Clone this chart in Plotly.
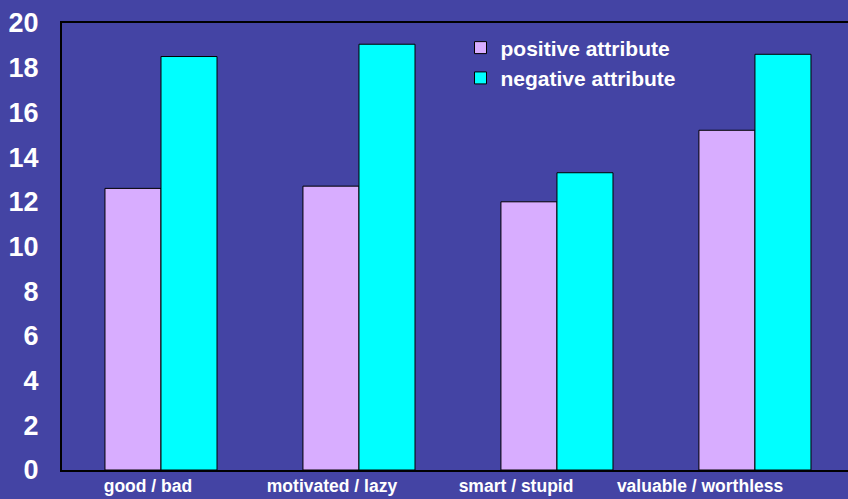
import plotly.graph_objects as go

categories = ["good / bad", "motivated / lazy", "smart / stupid", "valuable / worthless"]
positive = [12.6, 12.7, 12.0, 15.2]
negative = [18.5, 19.05, 13.3, 18.6]
y_ticks = [0, 2, 4, 6, 8, 10, 12, 14, 16, 18, 20]

bg = "#4444A4"
fig = go.Figure()
fig.add_trace(go.Bar(x=categories, y=positive, name="positive attribute",
                     marker=dict(color="#D8ADFF", line=dict(color="black", width=1))))
fig.add_trace(go.Bar(x=categories, y=negative, name="negative attribute",
                     marker=dict(color="#00FFFF", line=dict(color="black", width=1))))
# invisible carrier trace for the label axis
fig.add_trace(go.Scatter(x=list(range(len(categories))), y=[0] * len(categories), xaxis="x2",
                         mode="markers", marker=dict(opacity=0), showlegend=False, hoverinfo="skip"))

fig.update_layout(
    width=848, height=499,
    margin=dict(l=62, r=0, t=23, b=29, autoexpand=False),
    paper_bgcolor=bg, plot_bgcolor=bg,
    barmode="group", bargap=0.434, bargroupgap=0,
    font=dict(family="Liberation Sans, Arial, sans-serif", color="white"),
    showlegend=True,
    legend=dict(x=0.507, y=0.99, xanchor="left", yanchor="top", itemwidth=30,
                bgcolor="rgba(0,0,0,0)", font=dict(size=21, color="white", family="Liberation Sans, Arial, sans-serif", weight="bold"),
                tracegroupgap=0),
    xaxis2=dict(overlaying="x", anchor="y", side="bottom", range=[-0.467, 3.804],
                tickmode="array", tickvals=list(range(len(categories))), ticktext=categories,
                showline=False, showgrid=False, zeroline=False, ticks="",
                tickfont=dict(size=17.5, color="white", weight="bold"),
                automargin=False, ticklabelstandoff=3),
)
fig.layout.xaxis.update(range=[-0.5, 3.47], showline=True, linecolor="black", linewidth=2, mirror=True,
                        ticks="", showticklabels=False, showgrid=False, automargin=False)
fig.update_yaxes(range=[0, 20], tickvals=y_ticks, showline=True, linecolor="black", linewidth=2, mirror=True,
                 ticks="", tickfont=dict(size=27, color="white", weight="bold"), showgrid=False,
                 zeroline=False, ticklabelstandoff=16, automargin=False)
fig.write_html("out.html", config={"displayModeBar": False},
               post_script="document.body.style.margin='0';document.body.style.overflow='hidden';document.body.style.background='" + bg + "';")
